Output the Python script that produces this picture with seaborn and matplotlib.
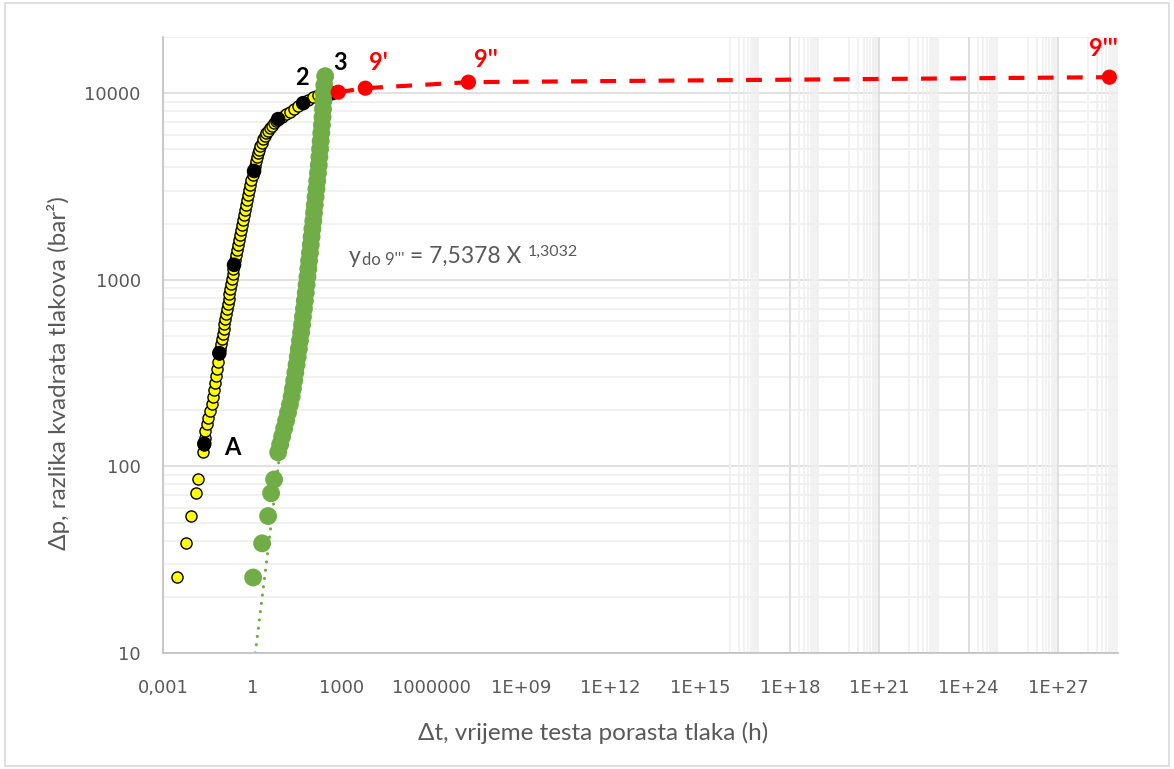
import matplotlib
matplotlib.use('Agg')
import matplotlib.pyplot as plt
from matplotlib.ticker import FixedLocator, NullLocator, LogLocator, NullFormatter
from matplotlib.patches import Rectangle
import seaborn as sns

# --- data (dt in hours, dp in bar^2) ---
yellow_t = [0.00288, 0.00592, 0.00904, 0.01233, 0.01531,
            0.02148, 0.02376, 0.02547, 0.02648, 0.02972, 0.03312, 0.03777, 0.04307,
            0.04689, 0.05146, 0.05645, 0.06146, 0.06691, 0.07174, 0.07752,
            0.08307, 0.08836, 0.09473, 0.1008, 0.1072, 0.1140, 0.1223, 0.1300, 0.1394,
            0.1483, 0.1578, 0.1678, 0.1799, 0.1913, 0.2051, 0.2182, 0.2304, 0.2413,
            0.2627, 0.2860, 0.3113, 0.3390, 0.3634, 0.3896, 0.4209, 0.4547, 0.4837,
            0.5144, 0.5515, 0.5911, 0.6387, 0.6900, 0.7510, 0.8181, 0.9046, 1.0235, 1.1317,
            1.222, 1.321, 1.427, 1.541, 1.665, 1.799, 2.021, 2.268, 2.547, 2.860, 3.339,
            3.896, 4.548, 5.306, 6.194, 7.230,
            9.847, 13.41, 18.26, 24.89, 33.90, 49.89, 73.40, 108.0, 158.9, 233.9, 344.2, 506.6]
yellow_dp = [25.4, 38.7, 54.2, 71.8, 85.1,
             118.8, 129.5, 141.2, 153.9, 167.8, 182.8, 199.3, 217.3,
             236.7, 258.1, 281.3, 306.7, 334.3, 364.4, 402.1,
             427.6, 454.8, 483.7, 514.3, 547.0, 581.8, 618.6, 658.0, 699.7,
             744.2, 791.4, 841.7, 895.1, 952.0, 1012, 1077, 1145, 1203,
             1279, 1361, 1447, 1539, 1637, 1740, 1851, 1969, 2094,
             2227, 2368, 2518, 2678, 2848, 3029, 3221, 3426, 3644, 3828,
             4071, 4329, 4548, 4776, 4988, 5207, 5437, 5675, 5890, 6111, 6303,
             6500, 6703, 6913, 7084, 7261,
             7443, 7722, 7914, 8212, 8520, 8842, 9175, 9520, 9757, 9878, 10000, 10123]

black_t = [0.0243, 0.0775, 0.2413, 1.1317, 7.23, 49.89, 469.0]
black_dp = [132.2, 404.6, 1203, 3828, 7261, 8842, 10000]

green_t = [1.05, 2.1, 3.33, 4.2, 5.3,
           7.23, 8.43, 9.84, 11.5, 13.4, 15.5, 18.0, 20.5, 22.7, 24.9, 27.3, 30.0,
           32.9, 35.8, 39.0, 42.5, 45.8, 49.1, 53.1, 56.9, 61.0, 64.9, 69.5, 74.0,
           78.7, 84.3, 89.7, 95.5, 101.6, 108.9, 114.8, 122.2, 130.0, 138.4, 147.2,
           156.6, 166.4, 174.6, 184.1, 192.8, 201.9, 211.6, 221.8, 230.1, 237.6,
           245.0, 254.6, 272.9]
green_dp = [25.4, 38.7, 54.2, 71.8, 85.1,
            118.9, 131, 144.7, 159.6, 176, 194.4, 214.6, 236.8, 261, 288, 318, 351,
            387, 427, 472, 521, 574, 634, 700, 772, 852, 940, 1038, 1145,
            1264, 1394, 1539, 1698, 1874, 2068, 2282, 2518, 2779, 3067, 3384,
            3734, 4121, 4548, 5018, 5538, 6111, 6744, 7442, 8212, 9062,
            10000, 11036, 12330]

red_t = [745.5, 6004, 1.717e7, 5.14e28]
red_dp = [10123, 10634, 11453, 12180]

# power-law trendline (y = 7,5378 x^1,3032), end points
trend_t = [1.243, 300]
trend_dp = [10, 12740]

x_ticks = [1e-3, 1, 1e3, 1e6, 1e9, 1e12, 1e15, 1e18, 1e21, 1e24, 1e27]
x_ticklabels = ['0,001', '1', '1000', '1000000', '1E+09', '1E+12', '1E+15',
                '1E+18', '1E+21', '1E+24', '1E+27']
y_ticks = [10, 100, 1000, 10000]
y_ticklabels = ['10', '100', '1000', '10000']

sns.set_style('white')
plt.rcParams['font.family'] = ['Lato', 'DejaVu Sans']

fig = plt.figure(figsize=(11.74, 7.69), dpi=100)
ax = fig.add_axes([0.1388, 0.1508, 0.8135, 0.8011])
fig.patches.append(Rectangle((0.004, 0.004), 0.992, 0.992, transform=fig.transFigure,
                             fill=False, edgecolor='#d9d9d9', linewidth=1.2))

ax.set_xscale('log')
ax.set_yscale('log')
ax.set_xlim(1e-3, 1e29)
ax.set_ylim(10, 20000)

# gridlines (Excel style)
ax.yaxis.set_minor_locator(LogLocator(base=10, subs=range(2, 10), numticks=20))
ax.yaxis.set_minor_formatter(NullFormatter())
ax.grid(False)
for v in y_ticks:
    ax.axhline(v, color='#d9d9d9', lw=1.1, zorder=0)
for k in range(1, 5):
    for m in range(2, 10):
        ax.axhline(m * 10 ** k, color='#eeeeee', lw=1.1, zorder=0)
for k in range(16, 29, 2):
    for m in range(1, 10):
        ax.axvline(m * 10.0 ** k, color='#efefef', lw=1.1, zorder=0)
for v in [1e18, 1e21, 1e24, 1e27]:
    ax.axvline(v, color='#d9d9d9', lw=1.1, zorder=0)

# trendline
ax.plot(trend_t, trend_dp, color='#70ad47', lw=2.3, linestyle=(0, (0.01, 2.6)),
        dash_capstyle='round', zorder=2)

sns.scatterplot(x=yellow_t, y=yellow_dp, color='#ffff00', edgecolor='black',
                linewidth=1.0, s=64, ax=ax, zorder=3)
sns.scatterplot(x=black_t, y=black_dp, color='black', edgecolor='none',
                s=110, ax=ax, zorder=4)
sns.scatterplot(x=green_t, y=green_dp, color='#70ad47', edgecolor='none',
                s=165, ax=ax, zorder=5)
ax.plot(red_t, red_dp, color='#ff0000', lw=3, linestyle=(0, (3.8, 3.2)), zorder=6)
sns.scatterplot(x=red_t, y=red_dp, color='#ff0000', edgecolor='none',
                s=120, ax=ax, zorder=7)

# point labels
lab = dict(fontsize=17, fontweight='bold', ha='center', va='center', zorder=8)
ax.text(0.2067, 126.4, 'A', color='black', **lab)
ax.text(46.2, 12180, '2', color='black', **lab)
ax.text(870, 14650, '3', color='black', **lab)
ax.text(16400, 14650, "9'", color='#ff0000', **lab)
ax.text(6.38e7, 15200, "9''", color='#ff0000', **lab)
ax.text(3.24e28, 17400, "9'''", color='#ff0000', **lab)

# trendline equation
eq_col = '#595959'
t1 = ax.text(1744, 1233, 'y', fontsize=16.5, color=eq_col, ha='left', va='baseline')
t2 = ax.annotate("do 9'''", xy=(1, 0), xycoords=t1, xytext=(0.5, -1),
                 textcoords='offset points', fontsize=12, color=eq_col,
                 ha='left', va='bottom')
t3 = ax.annotate(' = 7,5378 X ', xy=(1, 1233), xycoords=(t2, 'data'),
                 fontsize=16.5, color=eq_col, ha='left', va='baseline')
ax.annotate('1,3032', xy=(1, 1), xycoords=t3, xytext=(0, 1),
            textcoords='offset points', fontsize=11.5, color=eq_col,
            ha='left', va='top')

# axes
ax.xaxis.set_major_locator(FixedLocator(x_ticks))
ax.xaxis.set_minor_locator(NullLocator())
ax.set_xticklabels(x_ticklabels)
ax.yaxis.set_major_locator(FixedLocator(y_ticks))
ax.set_yticklabels(y_ticklabels)
ax.tick_params(axis='both', which='both', length=0, colors='#595959')
ax.tick_params(axis='x', pad=19)
ax.tick_params(axis='y', pad=16)
for t in ax.get_xticklabels():
    t.set_family(['Liberation Sans Narrow', 'DejaVu Sans'])
    t.set_fontsize(13)
for t in ax.get_yticklabels():
    t.set_family(['DejaVu Sans'])
    t.set_fontsize(13)

for s in ['top', 'right']:
    ax.spines[s].set_visible(False)
for s in ['left', 'bottom']:
    ax.spines[s].set_color('#bfbfbf')
    ax.spines[s].set_linewidth(1.2)

ax.set_xlabel('\u0394t, vrijeme testa porasta tlaka (h)', fontsize=17.5, color='#595959')
ax.set_ylabel('\u0394p, razlika kvadrata tlakova (bar\u00b2)', fontsize=17.5, color='#595959')
ax.xaxis.set_label_coords(0.45, -0.112)
ax.yaxis.set_label_coords(-0.097, 0.455)

fig.savefig('out.png', dpi=100)
